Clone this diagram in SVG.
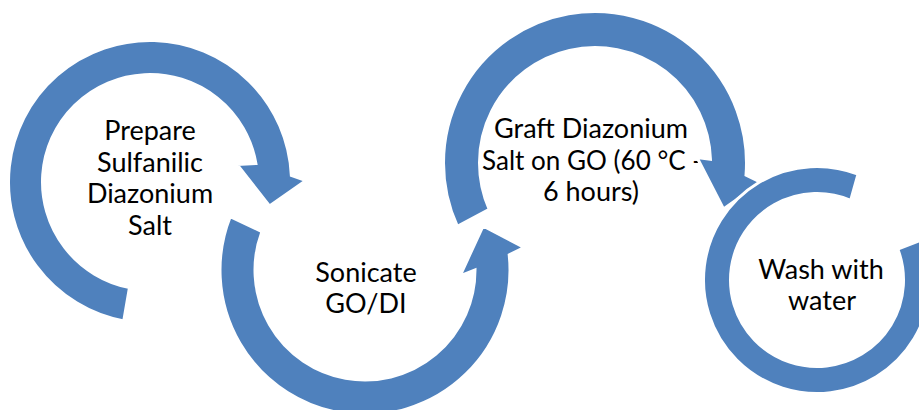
<svg xmlns="http://www.w3.org/2000/svg" width="919" height="410" viewBox="0 0 919 410">
  <style>
    .arc { fill: #4F81BD; stroke: #FFFFFF; stroke-width: 3; stroke-linejoin: miter; }
    .lbl { font-family: Lato, "Liberation Sans", sans-serif; font-size: 27px; fill: #000000; text-anchor: middle; }
  </style>
  <rect width="919" height="410" fill="#FFFFFF"/>
  <g id="connectors"></g>
  <g id="node1">
    <path class="arc" d="M 123.73,321.04 A 141.5 141.5 0 1 1 291.34,175.33 L 306,180.5 L 269.5,206 L 237,164.5 L 255.9,163.52 A 107.5 107.5 0 1 0 129.49,287.53 Z"/>
    <text class="lbl" x="150" y="140">Prepare</text>
    <text class="lbl" x="150" y="171.5">Sulfanilic</text>
    <text class="lbl" x="150" y="203">Diazonium</text>
    <text class="lbl" x="150" y="235">Salt</text>
  </g>
  <g id="node2">
    <path class="arc" d="M 230.18,216.62 A 145 145 0 1 0 509.21,254.84 L 524,247.5 L 483,226 L 460,276 L 475,270 A 110 110 0 1 1 261.9,231.66 Z"/>
    <text class="lbl" x="366" y="281.5">Sonicate</text>
    <text class="lbl" x="366" y="312.5">GO/DI</text>
  </g>
  <g id="node3">
    <text class="lbl" x="591" y="138">Graft Diazonium</text>
    <text class="lbl" x="592" y="169.5" textLength="220" lengthAdjust="spacingAndGlyphs">Salt on GO (60 °C -</text>
    <text class="lbl" x="591" y="201">6 hours)</text>
    <path class="arc" d="M 457.36,226.31 A 151.5 151.5 0 1 1 746.01,175.15 L 761,182.5 L 723.5,209 L 697,157.5 L 710.44,159.17 A 115.5 115.5 0 1 0 489.24,209.43 Z"/>
  </g>
  <g id="node4">
    <path class="arc" d="M 858.04,174.18 A 113.5 113.5 0 1 0 922.96,239.33 L 897.76,249 A 86.5 86.5 0 1 1 850.66,200.32 Z"/>
    <text class="lbl" x="821" y="279">Wash with</text>
    <text class="lbl" x="822" y="310">water</text>
  </g>
</svg>
